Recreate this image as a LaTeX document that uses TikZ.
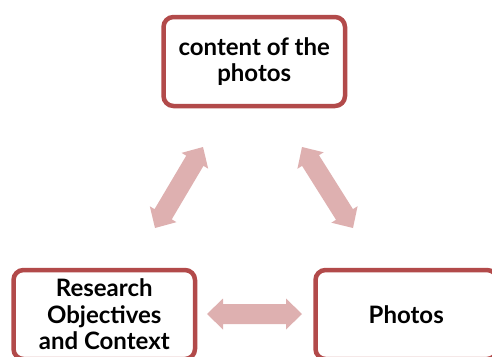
\documentclass[tikz,border=0pt]{standalone}
\usepackage{fontspec}
\setmainfont{Lato}
\usetikzlibrary{calc}

\definecolor{frame}{RGB}{178,74,74}
\definecolor{linkfill}{RGB}{222,176,176}

% dimensions of the two-headed block arrows
\def\ahl{16pt}  % head length
\def\ahw{15.5pt}% half head width
\def\asw{10pt}  % half shaft width

\newcommand\twowayarrow[2]{%
  \fill[linkarrow] (#1)
   -- ($(#1)!\ahl!(#2)!\ahw!90:(#2)$)
   -- ($(#1)!\ahl!(#2)!\asw!90:(#2)$)
   -- ($(#2)!\ahl!(#1)!\asw!-90:(#1)$)
   -- ($(#2)!\ahl!(#1)!\ahw!-90:(#1)$)
   -- (#2)
   -- ($(#2)!\ahl!(#1)!\ahw!90:(#1)$)
   -- ($(#2)!\ahl!(#1)!\asw!90:(#1)$)
   -- ($(#1)!\ahl!(#2)!\asw!-90:(#2)$)
   -- ($(#1)!\ahl!(#2)!\ahw!-90:(#2)$)
   -- cycle;}

\tikzset{
  topic/.style={draw=frame, line width=4.5pt, rounded corners=10pt, fill=white,
    minimum width=181.5pt, minimum height=89pt, align=center, inner sep=0pt,
    font=\fontsize{24}{26.5}\selectfont\bfseries},
  linkarrow/.style={fill=linkfill}
}

\begin{document}
\begin{tikzpicture}[x=1pt, y=-1pt]
  \useasboundingbox (0,0) rectangle (492,356);
  \clip (0,0) rectangle (492,356);

  \node[topic] (content) at (254.25,61.5) {content of the\\photos};
  \node[topic] (research) at (104.25,314.5) {Research\\Objectives\\and Context};
  \node[topic] (photos) at (406.25,314.5) {Photos};

  \coordinate (cl) at (203,147);
  \coordinate (rl) at (155,228);
  \coordinate (cr) at (302,147);
  \coordinate (pr) at (353,228);
  \coordinate (rp) at (207,314);
  \coordinate (pp) at (302,314);

  \twowayarrow{rl}{cl}
  \twowayarrow{cr}{pr}
  \twowayarrow{rp}{pp}
\end{tikzpicture}
\end{document}
